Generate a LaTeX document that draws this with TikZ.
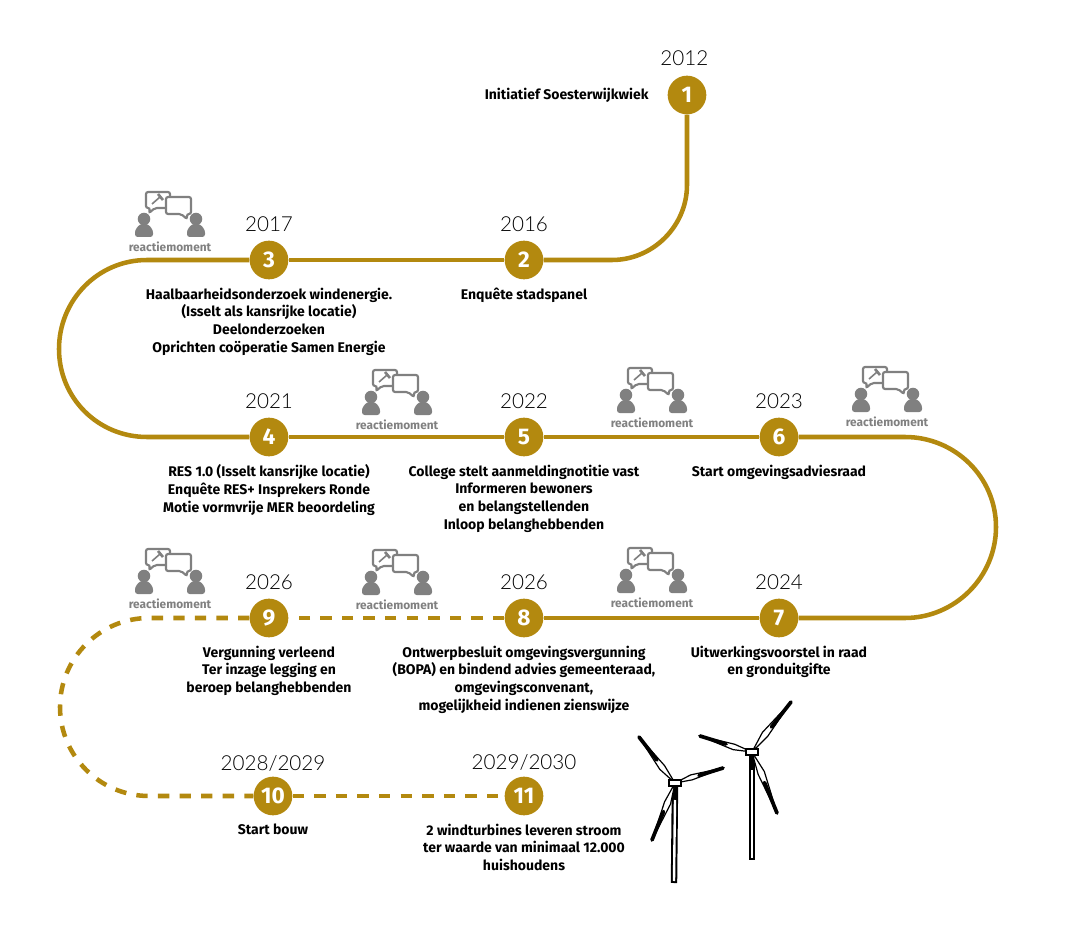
\documentclass[tikz,border=0pt]{standalone}
\usepackage{fontspec}
\setmainfont{Fira Sans}
\newfontfamily\yearfont{Lato Light}
\usepackage{xcolor}
\usetikzlibrary{positioning,calc}

\definecolor{trackgold}{HTML}{B3890F}
\definecolor{iconGray}{HTML}{808080}

% one turbine blade, from the hub to the tip
\newcommand{\turbineblade}[2]{
    \draw[line width=0.9pt,fill=white,line join=round] #1 -- ($#1!0.35!10:#2$) -- #2 -- ($#1!0.35!-7:#2$) -- cycle;
    \draw[line width=2.8pt,line cap=round] ($#1!0.5!#2$) -- #2;
}

\tikzset{
    stepnode/.style = {circle,
        fill=trackgold,
        text=white,
        inner sep=0pt,
        minimum size=29pt,
        font=\fontsize{17}{17}\selectfont\bfseries},
    yeartext/.style = {inner sep=0pt,
        font=\yearfont\fontsize{15.5}{16}\selectfont},
    steptext/.style = {inner sep=0pt,
        align=center,
        font=\fontsize{10.5}{13.2}\selectfont\bfseries},
    track/.style = {trackgold,line width=3.4pt},
    trackdash/.style = {track,dash pattern=on 8.5pt off 7.7pt},
    pics/reactie/.style = {code={
        \node[inner sep=0pt,text=iconGray,font=\fontsize{8.9}{9}\selectfont\bfseries] (-label) at (0,0) {reactiemoment};
        % persons
        \fill[iconGray] (-26,-28) circle[radius=4.7pt];
        \fill[iconGray] (26,-28) circle[radius=4.7pt];
        \fill[iconGray,rounded corners=2pt] (-35,-10) -- (-35,-17) -- (-30,-23) -- (-22,-23) -- (-17,-17) -- (-17,-10) -- cycle;
        \fill[iconGray,rounded corners=2pt] (17,-10) -- (17,-17) -- (22,-23) -- (30,-23) -- (35,-17) -- (35,-10) -- cycle;
        % speech bubbles
        \draw[iconGray,line width=1.6pt,fill=white,rounded corners=1.5pt] (-24,-55) -- (0,-55) -- (0,-39) -- (-15,-39) -- (-21,-34) -- (-20,-39) -- (-24,-39) -- cycle;
        \draw[iconGray,line width=1.2pt] (-18,-43) -- (-10,-50);
        \draw[iconGray,line width=2pt] (-12,-53) -- (-7,-47);
        \draw[iconGray,line width=1.6pt,fill=white,rounded corners=1.5pt] (-4,-50) -- (21,-50) -- (21,-33) -- (17,-33) -- (17,-28) -- (11,-33) -- (-4,-33) -- cycle;
    }}
}

\begin{document}
\begin{tikzpicture}[x=0.75pt,y=-0.75pt]
    \useasboundingbox (0,0) rectangle (1072,945);

    % Steps on the track
    \node[stepnode] (step1) at (687,95) {1};
    \node[stepnode] (step2) at (524,260) {2};
    \node[stepnode] (step3) at (269,260) {3};
    \node[stepnode] (step4) at (269,437) {4};
    \node[stepnode] (step5) at (524,437) {5};
    \node[stepnode] (step6) at (779,437) {6};
    \node[stepnode] (step7) at (779,618) {7};
    \node[stepnode] (step8) at (524,618) {8};
    \node[stepnode] (step9) at (269,618) {9};
    \node[stepnode] (step10) at (273,796) {10};
    \node[stepnode] (step11) at (524,796) {11};

    % Years
    \node[yeartext,above=7pt of step1,xshift=-2pt] (year1) {2012};
    \node[yeartext,above=6pt of step2] (year2) {2016};
    \node[yeartext,above=6pt of step3] (year3) {2017};
    \node[yeartext,above=6pt of step4] (year4) {2021};
    \node[yeartext,above=6pt of step5] (year5) {2022};
    \node[yeartext,above=6pt of step6] (year6) {2023};
    \node[yeartext,above=6.5pt of step7] (year7) {2024};
    \node[yeartext,above=6.5pt of step8] (year8) {2026};
    \node[yeartext,above=6.5pt of step9] (year9) {2026};
    \node[yeartext,above=3.5pt of step10] (year10) {2028/2029};
    \node[yeartext,above=4.5pt of step11] (year11) {2029/2030};

    % Texts
    \node[steptext,left=14pt of step1] (text1) {Initiatief Soesterwijkwiek};
    \node[steptext,below=6pt of step2] (text2) {Enquête stadspanel};
    \node[steptext,below=6pt of step3] (text3) {Haalbaarheidsonderzoek windenergie.\\(Isselt als kansrijke locatie)\\Deelonderzoeken\\Oprichten coöperatie Samen Energie};
    \node[steptext,below=6pt of step4] (text4) {RES 1.0 (Isselt kansrijke locatie)\\Enquête RES+ Insprekers Ronde\\Motie vormvrije MER beoordeling};
    \node[steptext,below=6pt of step5] (text5) {College stelt aanmeldingnotitie vast\\Informeren bewoners\\en belangstellenden\\Inloop belanghebbenden};
    \node[steptext,below=6pt of step6] (text6) {Start omgevingsadviesraad};
    \node[steptext,below=6pt of step7] (text7) {Uitwerkingsvoorstel in raad\\en gronduitgifte};
    \node[steptext,below=6pt of step8] (text8) {Ontwerpbesluit omgevingsvergunning\\(BOPA) en bindend advies gemeenteraad,\\omgevingsconvenant,\\mogelijkheid indienen zienswijze};
    \node[steptext,below=6pt of step9] (text9) {Vergunning verleend\\Ter inzage legging en\\beroep belanghebbenden};
    \node[steptext,below=6pt of step10] (text10) {Start bouw};
    \node[steptext,below=6pt of step11] (text11) {2 windturbines leveren stroom\\ter waarde van minimaal 12.000\\huishoudens};

    % Turning points of the track
    \coordinate (turnA) at (687,185);
    \coordinate (turnB) at (612,260);
    \coordinate (turnC) at (147,260);
    \coordinate (leftA) at (59,349);
    \coordinate (turnD) at (147,437);
    \coordinate (turnE) at (905,437);
    \coordinate (rightA) at (996,527);
    \coordinate (turnF) at (905,618);
    \coordinate (turnG) at (149,618);
    \coordinate (leftB) at (60,707);
    \coordinate (turnH) at (149,796);

    % Solid part
    \draw[track] (step1) -- (turnA) .. controls +(0,41) and +(41,0) .. (turnB) -- (step2);
    \draw[track] (step2) -- (step3);
    \draw[track] (step3) -- (turnC) .. controls +(-49,0) and +(0,-49) .. (leftA)
        .. controls +(0,49) and +(-49,0) .. (turnD) -- (step4);
    \draw[track] (step4) -- (step5);
    \draw[track] (step5) -- (step6);
    \draw[track] (step6) -- (turnE) .. controls +(50,0) and +(0,-50) .. (rightA)
        .. controls +(0,50) and +(50,0) .. (turnF) -- (step7);
    \draw[track] (step7) -- (step8);

    % Dashed part
    \draw[trackdash] (step8) -- (step9);
    \draw[trackdash] (step9) -- (turnG) .. controls +(-49,0) and +(0,-49) .. (leftB)
        .. controls +(0,49) and +(-49,0) .. (turnH) -- (step10);
    \draw[trackdash] (step10) -- (step11);

    % Reaction moments
    \pic (react3) at (170,247) {reactie};
    \pic (react5) at (397,425) {reactie};
    \pic (react6) at (652,423) {reactie};
    \pic (react6b) at (887,422) {reactie};
    \pic (react9) at (170,604) {reactie};
    \pic (react8) at (397,605) {reactie};
    \pic (react7) at (652,603) {reactie};

    % Left turbine
    \draw[line width=4.8pt] (675,783) -- (674,883);
    \draw[white,line width=1.8pt] (675,800) -- (674,881);
    \turbineblade{(675,783)}{(639,737)}
    \turbineblade{(675,783)}{(723,768)}
    \turbineblade{(675,783)}{(652,840)}
    \draw[fill=white,line width=0.9pt] (669,780) rectangle (681,786);

    % Right turbine
    \draw[line width=4.8pt] (752,752) -- (752,860);
    \draw[white,line width=1.8pt] (752,770) -- (752,858);
    \turbineblade{(752,752)}{(791,702)}
    \turbineblade{(752,752)}{(700,736)}
    \turbineblade{(752,752)}{(777,813)}
    \draw[fill=white,line width=0.9pt] (746,749) rectangle (758,755);
\end{tikzpicture}
\end{document}
